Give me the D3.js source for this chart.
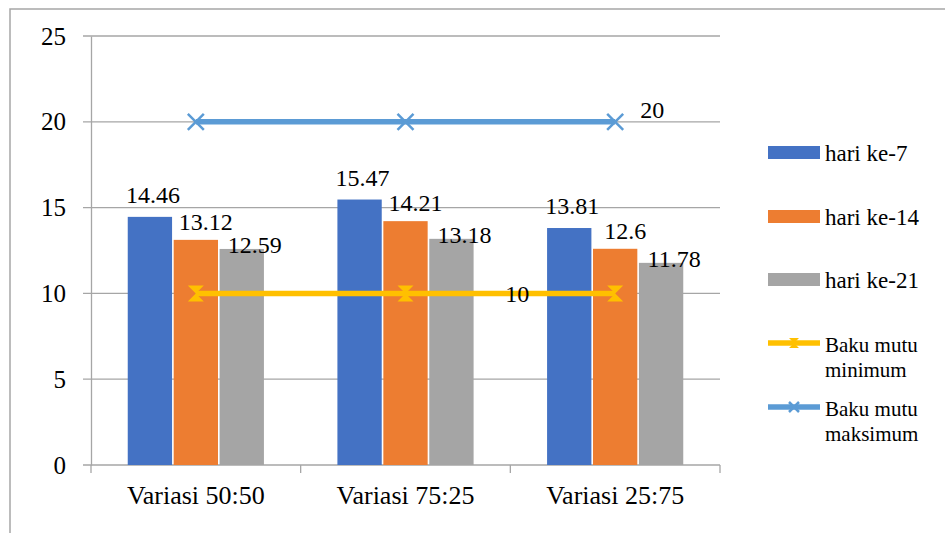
<!DOCTYPE html>
<html>
<head>
<meta charset="utf-8">
<script src="https://cdn.jsdelivr.net/npm/d3@7"></script>
</head>
<body style="margin:0">
<svg width="945" height="533"></svg>
<script>
/* Data */
const categories = ['Variasi 50:50', 'Variasi 75:25', 'Variasi 25:75'];
const series = ['hari ke-7', 'hari ke-14', 'hari ke-21'];
const hari7 = [14.46, 15.47, 13.81];
const hari14 = [13.12, 14.21, 12.6];
const hari21 = [12.59, 13.18, 11.78];
const bakuMin = [10, 10, 10];
const bakuMax = [20, 20, 20];
const yTicks = [0, 5, 10, 15, 20, 25];

const barValues = [hari7, hari14, hari21];

/* Style */
const FONT = 'Liberation Serif';
const barColors = ['#4472C4', '#ED7D31', '#A5A5A5'];
const minColor = '#FFC000';
const maxColor = '#5B9BD5';
const gridColor = '#A6A6A6';
// label nudges per series (Excel shifts them to avoid overlap)
const labelDx = [3, 10, 13];
const labelDy = [-14, -10, 4];

/* SVG */
const svg = d3.select('svg');
const margin = { left: 91, right: 225, top: 36, bottom: 68 };
const W = 945, H = 533;

/* Outer frame (top + left only visible) */
svg.append('path')
  .attr('d', `M10,${H} L10,9 L${W},9`)
  .attr('fill', 'none')
  .attr('stroke', '#A6A6A6')
  .attr('stroke-width', 1.5);

/* Scales */
const x0 = d3.scaleBand()
  .domain(categories)
  .range([margin.left, W - margin.right])
  .padding(0);

const x1 = d3.scaleBand()
  .domain(series)
  .range([0, x0.bandwidth()])
  .paddingInner(0.035)
  .paddingOuter(0.8);

const y = d3.scaleLinear()
  .domain([0, 25])
  .range([H - margin.bottom, margin.top]);

/* Grid */
svg.append('g')
  .selectAll('line').data(yTicks)
  .enter().append('line')
  .attr('x1', margin.left - 8)
  .attr('x2', W - margin.right)
  .attr('y1', d => y(d))
  .attr('y2', d => y(d))
  .attr('stroke', gridColor)
  .attr('stroke-width', 1.3);

/* Y axis */
const yAxis = svg.append('g')
  .attr('transform', `translate(${margin.left},0)`)
  .call(d3.axisLeft(y).tickValues(yTicks).tickSize(0).tickPadding(25));
yAxis.select('.domain').attr('stroke', gridColor).attr('stroke-width', 1.3);
yAxis.selectAll('text')
  .attr('font-family', FONT).attr('font-size', 25).attr('fill', '#000');

/* X axis */
const xAxis = svg.append('g')
  .attr('transform', `translate(0,${y(0)})`)
  .call(d3.axisBottom(x0).tickSize(0).tickPadding(21));
xAxis.select('.domain').remove();
xAxis.selectAll('text')
  .attr('font-family', FONT).attr('font-size', 26).attr('fill', '#000');

// category boundary ticks
const bounds = categories.map(c => x0(c)).concat([x0(categories[categories.length - 1]) + x0.bandwidth()]);
svg.append('g')
  .selectAll('line').data(bounds)
  .enter().append('line')
  .attr('x1', d => d).attr('x2', d => d)
  .attr('y1', y(0)).attr('y2', y(0) + 8)
  .attr('stroke', gridColor).attr('stroke-width', 1.3);

/* Bars */
const groups = svg.append('g').attr('class', 'bars')
  .selectAll('g').data(series)
  .enter().append('g')
  .attr('fill', (d, i) => barColors[i]);

groups.selectAll('rect')
  .data((s, si) => categories.map((c, ci) => ({ s, si, c, v: barValues[si][ci] })))
  .enter().append('rect')
  .attr('x', d => x0(d.c) + x1(d.s))
  .attr('y', d => y(d.v))
  .attr('width', x1.bandwidth())
  .attr('height', d => y(0) - y(d.v));

/* Lines */
const cx = c => x0(c) + x0.bandwidth() / 2;
const line = d3.line().x(d => cx(d.c)).y(d => y(d.v));

function drawLine(vals, color) {
  const pts = categories.map((c, i) => ({ c, v: vals[i] }));
  svg.append('path')
    .datum(pts)
    .attr('d', line)
    .attr('fill', 'none')
    .attr('stroke', color)
    .attr('stroke-width', 5.5);
  return pts;
}

// hourglass marker for minimum
function hourglass(g, x, yy, s, color) {
  g.append('path')
    .attr('d', `M${x - s},${yy - s} L${x + s},${yy - s} L${x},${yy} L${x + s},${yy + s} L${x - s},${yy + s} L${x},${yy} Z`)
    .attr('fill', color);
}
// x marker for maximum
function xMark(g, x, yy, s, color) {
  g.append('path')
    .attr('d', `M${x - s},${yy - s} L${x + s},${yy + s} M${x + s},${yy - s} L${x - s},${yy + s}`)
    .attr('stroke', color)
    .attr('stroke-width', 2.5)
    .attr('fill', 'none');
}

const minPts = drawLine(bakuMin, minColor);
const maxPts = drawLine(bakuMax, maxColor);
const mk = svg.append('g');
minPts.forEach(p => hourglass(mk, cx(p.c), y(p.v), 8, minColor));
maxPts.forEach(p => xMark(mk, cx(p.c), y(p.v), 8, maxColor));

/* Text helper */
function txt(g, x, yy, s, size, anchor) {
  return g.append('text')
    .attr('x', x).attr('y', yy)
    .attr('font-family', FONT)
    .attr('font-size', size)
    .attr('text-anchor', anchor || 'start')
    .text(s);
}

/* Bar labels */
const labels = svg.append('g');
series.forEach((s, si) => {
  categories.forEach((c, ci) => {
    const v = barValues[si][ci];
    txt(labels, x0(c) + x1(s) + x1.bandwidth() / 2 + labelDx[si], y(v) + labelDy[si], v, 24, 'middle');
  });
});

/* Line labels (on last point) */
const lastMax = maxPts[maxPts.length - 1];
txt(labels, cx(lastMax.c) + 25, y(lastMax.v) - 4, lastMax.v, 24);
const lastMin = minPts[minPts.length - 1];
txt(labels, cx(lastMin.c) - 98, y(lastMin.v) + 9, lastMin.v, 24, 'middle');

/* Legend */
const lg = svg.append('g').attr('transform', 'translate(768,0)');
const legendRowsY = [152, 216, 279];
series.forEach((s, i) => {
  lg.append('rect')
    .attr('x', 0).attr('y', legendRowsY[i] - 6)
    .attr('width', 52).attr('height', 13)
    .attr('fill', barColors[i]);
  txt(lg, 57, legendRowsY[i] + 9, s, 23);
});

const lineLegend = [
  { name: ['Baku mutu', 'minimum'], color: minColor, yy: 343, marker: hourglass },
  { name: ['Baku mutu', 'maksimum'], color: maxColor, yy: 407, marker: xMark }
];
lineLegend.forEach(d => {
  lg.append('line')
    .attr('x1', 0).attr('x2', 52)
    .attr('y1', d.yy).attr('y2', d.yy)
    .attr('stroke', d.color).attr('stroke-width', 5.5);
  d.marker(lg, 26, d.yy, 5, d.color);
  d.name.forEach((t, k) => txt(lg, 57, d.yy + 9 + k * 25, t, 21));
});
</script>
</body>
</html>
